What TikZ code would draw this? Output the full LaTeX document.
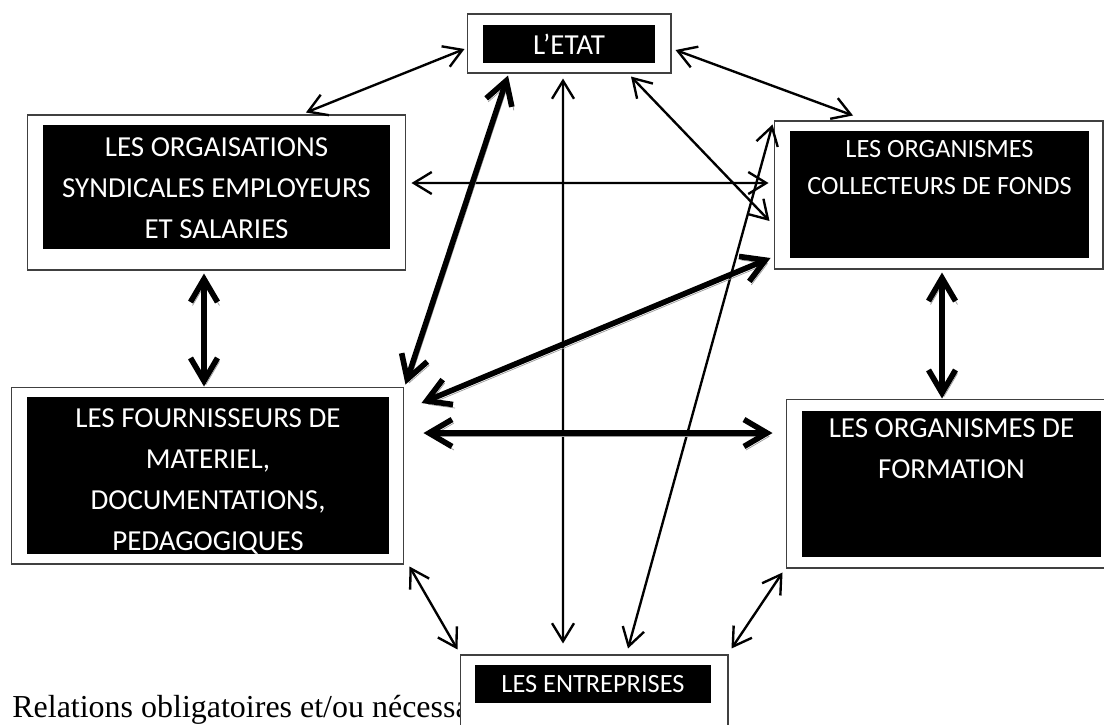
\documentclass[tikz,border=0pt]{standalone}
\usepackage{fontspec}
\setmainfont{Liberation Serif}
\newfontfamily\calibri{Carlito}
\usetikzlibrary{arrows.meta}

\begin{document}
\begin{tikzpicture}[x=0.02cm, y=-0.02cm,
        cadre/.style={draw=black!75, line width=0.6pt, fill=white, inner sep=0pt},
        fond/.style={fill=black, text=white, inner sep=0pt, align=center},
        texte/.style={text=white, inner sep=0pt, align=center},
        grand/.style={font=\calibri\fontsize{16.5}{23.3}\selectfont},
        petit/.style={font=\calibri\fontsize{15}{21}\selectfont},
        lien/.style={{Straight Barb[length=0.36cm,width=0.44cm]}-{Straight Barb[length=0.36cm,width=0.44cm]}, line width=1.35pt},
        lienfort/.style={{Straight Barb[length=0.46cm,width=0.54cm]}-{Straight Barb[length=0.46cm,width=0.54cm]}, line width=3.2pt,
            preaction={draw=black!40, transform canvas={shift={(0.04cm,-0.07cm)}}}}]
    \useasboundingbox (0,0) rectangle (1104,724);
    \node[anchor=base west, inner sep=0pt, font=\fontsize{18.2}{22}\selectfont] (legende) at (12,717) {Relations obligatoires et/ou nécessa};

    \node[cadre, minimum width=4.08cm, minimum height=1.18cm] (etat)    at (569,43.5)   {};
    \node[fond, grand, minimum width=3.44cm, minimum height=0.76cm] (etatin) at (569,44) {L’ETAT};
    \node[cadre, minimum width=7.58cm, minimum height=3.10cm] (orga)    at (216.5,192.5) {};
    \node[fond, minimum width=6.94cm, minimum height=2.48cm]  (orgain)  at (216.5,187)  {};
    \node[texte, grand] (orgatxt) at (216.5,188.5) {LES ORGAISATIONS\\SYNDICALES EMPLOYEURS\\ET SALARIES};
    \node[cadre, minimum width=6.58cm, minimum height=2.96cm] (coll)    at (938.5,195)  {};
    \node[fond, minimum width=5.98cm, minimum height=2.54cm]  (collin)  at (939.5,194.5) {};
    \node[texte, petit] (colltxt) at (939.5,167.5) {LES ORGANISMES\\COLLECTEURS DE FONDS};
    \node[cadre, minimum width=7.86cm, minimum height=3.54cm] (fourn)   at (207.5,475.5) {};
    \node[fond, minimum width=7.24cm, minimum height=3.14cm]  (fournin) at (208,475.5)  {};
    \node[texte, grand] (fourntxt) at (208,481.5) {LES FOURNISSEURS DE\\MATERIEL,\\DOCUMENTATIONS,\\PEDAGOGIQUES};
    \node[cadre, minimum width=6.58cm, minimum height=3.38cm] (form)    at (950.5,483.5) {};
    \node[fond, minimum width=5.98cm, minimum height=2.92cm]  (formin)  at (951.5,484)  {};
    \node[texte, grand] (formtxt) at (951.5,449) {LES ORGANISMES DE\\FORMATION};
    \node[cadre, minimum width=5.36cm, minimum height=1.44cm] (entr)    at (594,691)    {};
    \node[fond, petit, minimum width=4.72cm, minimum height=0.76cm] (entrin) at (593,684) {LES ENTREPRISES};

    \draw[lien] ([xshift=-0.04cm,yshift=-0.11cm]etat.west)  -- ([xshift=1.79cm,yshift=0.04cm]orga.north);
    \draw[lien] ([xshift=0.08cm,yshift=-0.13cm]etat.east)   -- ([xshift=-1.71cm,yshift=0.1cm]coll.north);
    \draw[lien] ([xshift=-0.12cm,yshift=-0.1cm]etat.south)  -- ([xshift=-0.62cm,yshift=0.22cm]entr.north);
    \draw[lien] ([xshift=1.24cm,yshift=-0.06cm]etat.south)  -- ([xshift=-0.08cm,yshift=-0.52cm]coll.west);
    \draw[lien] ([xshift=0.1cm,yshift=0.19cm]orga.east)     -- ([xshift=-0.1cm,yshift=0.24cm]coll.west);
    \draw[lien] ([xshift=0.68cm,yshift=0.12cm]entr.north)   -- ([xshift=-0.02cm,yshift=-0.08cm]coll.north west);
    \draw[lien] ([xshift=0.1cm,yshift=-0.04cm]fourn.south east) -- ([xshift=-0.04cm,yshift=0.1cm]entr.north west);
    \draw[lien] ([xshift=-0.06cm,yshift=-0.08cm]form.south west) -- ([xshift=0.06cm,yshift=0.12cm]entr.north east);

    \draw[lienfort] ([xshift=-0.25cm,yshift=-0.06cm]orga.south) -- ([xshift=-0.07cm]fourn.north);
    \draw[lienfort] ([xshift=0.07cm,yshift=-0.06cm]coll.south)  -- ([xshift=-0.17cm]form.north);
    \draw[lienfort] ([xshift=-1.22cm,yshift=-0.04cm]etat.south) -- ([xshift=0.02cm,yshift=0.04cm]fourn.north east);
    \draw[lienfort] ([xshift=-0.06cm,yshift=-1.26cm]coll.west)  -- ([xshift=0.34cm,yshift=1.45cm]fourn.east);
    \draw[lienfort] ([xshift=0.38cm,yshift=0.85cm]fourn.east)   -- ([xshift=-0.26cm,yshift=1.01cm]form.west);
\end{tikzpicture}
\end{document}
